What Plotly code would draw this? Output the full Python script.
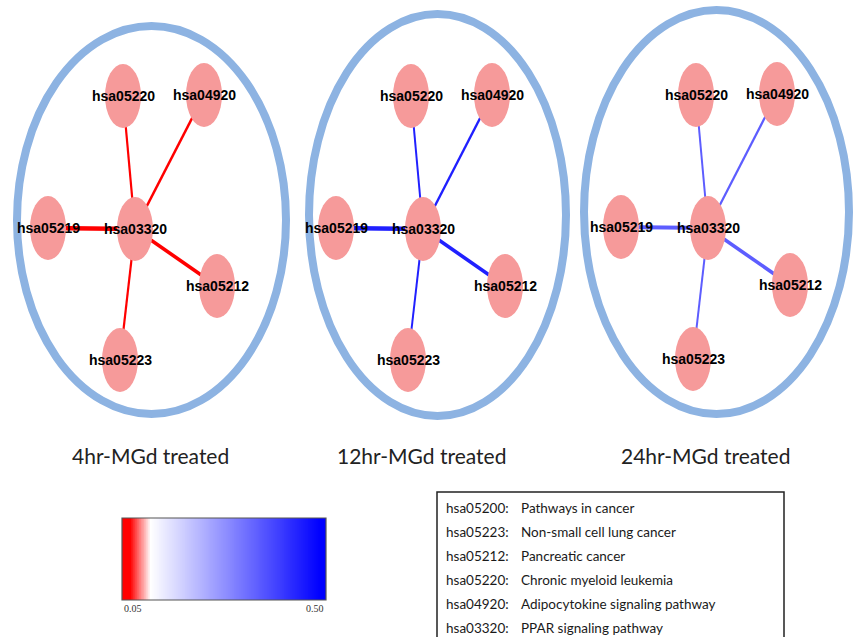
import numpy as np
import plotly.graph_objects as go
from plotly.colors import sample_colorscale

# ---------------- data ----------------
panel_titles = ["4hr-MGd treated", "12hr-MGd treated", "24hr-MGd treated"]
hub = "hsa03320"
leaves = ["hsa05220", "hsa04920", "hsa05219", "hsa05212", "hsa05223"]
# p-value of each hub-leaf edge (colour), per panel
edge_pvalues_4hr = [0.05, 0.05, 0.05, 0.05, 0.05]
edge_pvalues_12hr = [0.44, 0.44, 0.44, 0.44, 0.44]
edge_pvalues_24hr = [0.35, 0.35, 0.35, 0.35, 0.35]
# edge weight (line thickness), per panel
edge_weights_4hr = [2.2, 2.6, 4.5, 3.6, 2.2]
edge_weights_12hr = [2.0, 2.4, 4.5, 3.6, 2.0]
edge_weights_24hr = [2.0, 2.2, 4.2, 3.6, 2.0]
scale_min, scale_max = 0.05, 0.50
scale_labels = ["0.05", "0.50"]
legend_codes = ["hsa05200:", "hsa05223:", "hsa05212:", "hsa05220:", "hsa04920:", "hsa03320:"]
legend_names = ["Pathways in cancer", "Non-small cell lung cancer", "Pancreatic cancer",
                "Chronic myeloid leukemia", "Adipocytokine signaling pathway",
                "PPAR signaling pathway"]

# ---------------- layout / style ----------------
W, H = 855, 637
colorscale = [[0.0, "#ff0000"], [0.04, "#ff0000"], [0.14, "#ffffff"],
              [0.97, "#0000ff"], [1.0, "#0000ff"]]
ring_color = "#8DB3E2"
node_color = "#F69A9A"
node_w, node_h = 36, 64
# leaf offsets relative to hub (pixels)
leaf_offsets = {"hsa05220": (-12, -133), "hsa04920": (69, -134), "hsa05219": (-87, -1),
                "hsa05212": (82, 57), "hsa05223": (-15, 131)}
panels = [
    dict(hub=(135, 229), ring=(17, 26, 286, 414), title_x=150,
         p=edge_pvalues_4hr, w=edge_weights_4hr),
    dict(hub=(423, 229), ring=(309, 14, 566, 416), title_x=421,
         p=edge_pvalues_12hr, w=edge_weights_12hr),
    dict(hub=(708, 228), ring=(584, 10, 849, 414), title_x=705,
         p=edge_pvalues_24hr, w=edge_weights_24hr),
]

fig = go.Figure()
shapes, annotations = [], []
label_font = dict(family="Liberation Sans, Arial, sans-serif",
                  size=14, color="black", weight="bold")

for pan, title in zip(panels, panel_titles):
    hx, hy = pan["hub"]
    x0, y0, x1, y1 = pan["ring"]
    shapes.append(dict(type="circle", xref="x", yref="y", x0=x0, y0=y0, x1=x1, y1=y1,
                       line=dict(color=ring_color, width=8), layer="below"))
    pos = {hub: (hx, hy)}
    for lf in leaves:
        dx, dy = leaf_offsets[lf]
        pos[lf] = (hx + dx, hy + dy)
    cols = sample_colorscale(colorscale,
                             [(p - scale_min) / (scale_max - scale_min) for p in pan["p"]])
    for lf, c, wd in zip(leaves, cols, pan["w"]):
        (ax, ay), (bx, by) = pos[hub], pos[lf]
        fig.add_trace(go.Scatter(x=[ax, bx], y=[ay, by], mode="lines",
                                 line=dict(color=c, width=wd), hoverinfo="skip",
                                 showlegend=False))
    for name, (nx, ny) in pos.items():
        shapes.append(dict(type="circle", xref="x", yref="y",
                           x0=nx - node_w / 2, x1=nx + node_w / 2,
                           y0=ny - node_h / 2, y1=ny + node_h / 2,
                           fillcolor=node_color, line=dict(width=0), layer="above"))
        annotations.append(dict(x=nx, y=ny, xref="x", yref="y", text=name, showarrow=False,
                                font=label_font, xanchor="center", yanchor="middle"))
    annotations.append(dict(x=pan["title_x"], y=455, xref="x", yref="y", text=title,
                            showarrow=False, xanchor="center", yanchor="middle",
                            font=dict(family="Lato, sans-serif", size=21, color="#222")))

# colour scale bar
cb_x0, cb_x1, cb_y0, cb_y1 = 122, 326, 518, 600
ramp = np.linspace(scale_min, scale_max, 300)
fig.add_trace(go.Heatmap(z=[ramp], x=ramp, y=[0], colorscale=colorscale,
                         zmin=scale_min, zmax=scale_max, showscale=False,
                         hoverinfo="skip", xaxis="x2", yaxis="y2"))
shapes.append(dict(type="rect", xref="x", yref="y", x0=cb_x0, x1=cb_x1, y0=cb_y0, y1=cb_y1,
                   line=dict(color="#555", width=1.2), layer="above"))
annotations.append(dict(x=cb_x0, y=cb_y1 + 1, xref="x", yref="y", text=scale_labels[0],
                        showarrow=False, xanchor="left", yanchor="top",
                        font=dict(family="Liberation Serif, serif", size=10, color="#333")))
annotations.append(dict(x=cb_x1, y=cb_y1 + 1, xref="x", yref="y", text=scale_labels[1],
                        showarrow=False, xanchor="right", yanchor="top",
                        font=dict(family="Liberation Serif, serif", size=10, color="#333")))

# legend box
shapes.append(dict(type="rect", xref="x", yref="y", x0=437, x1=784, y0=492, y1=660,
                   line=dict(color="#222", width=1.5), layer="above"))
leg_font = dict(family="Lato, sans-serif", size=13.5, color="#1a1a1a")
for i, (code, name) in enumerate(zip(legend_codes, legend_names)):
    yy = 508 + 24 * i
    annotations.append(dict(x=444, y=yy, xref="x", yref="y", text=code, showarrow=False,
                            xanchor="left", yanchor="middle", font=leg_font))
    annotations.append(dict(x=519, y=yy, xref="x", yref="y", text=name, showarrow=False,
                            xanchor="left", yanchor="middle", font=leg_font))

fig.update_layout(
    width=W, height=H, margin=dict(l=0, r=0, t=0, b=0),
    paper_bgcolor="white", plot_bgcolor="white", showlegend=False,
    xaxis=dict(range=[0, W], visible=False, domain=[0, 1], fixedrange=True),
    yaxis=dict(range=[H, 0], visible=False, domain=[0, 1], fixedrange=True),
    xaxis2=dict(domain=[cb_x0 / W, cb_x1 / W], range=[scale_min, scale_max],
                visible=False, anchor="y2"),
    yaxis2=dict(domain=[1 - cb_y1 / H, 1 - cb_y0 / H], range=[-0.5, 0.5],
                visible=False, anchor="x2"),
    shapes=shapes, annotations=annotations,
)
fig.write_html("out.html", config={"displayModeBar": False},
               post_script="document.body.style.margin='0';")
